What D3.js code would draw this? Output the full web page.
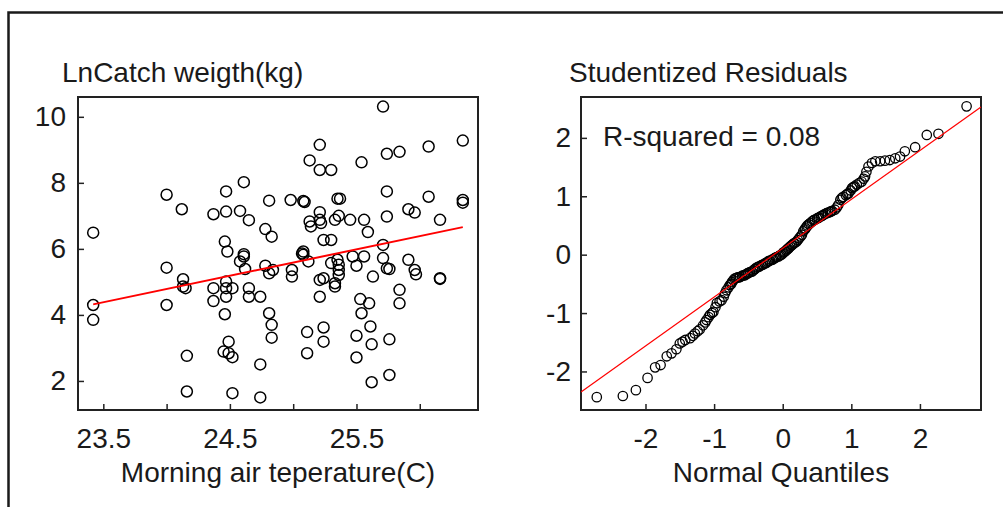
<!DOCTYPE html>
<html>
<head>
<meta charset="utf-8">
<script src="https://cdn.jsdelivr.net/npm/d3@7/dist/d3.min.js"></script>
<style>
  body { margin: 0; background: #fff; }
  svg text { font-family: "Liberation Sans", Arial, sans-serif; fill: #1a1a1a; }
</style>
</head>
<body>
<div id="chart"></div>
<script>
// Left panel: morning air temperature vs ln catch weight
const tempC = [
  23.42, 23.42, 23.42, 24.00, 24.00, 24.00, 24.12, 24.13, 24.13, 24.15,
  24.16, 24.16, 24.37, 24.37, 24.37, 24.46, 24.46, 24.47, 24.47, 24.47,
  24.47, 24.47, 24.48, 24.49, 24.45, 24.49, 24.52, 24.52, 24.52, 24.58,
  24.58, 24.61, 24.61, 24.61, 24.62, 24.65, 24.65, 24.65, 24.74, 24.74,
  24.74, 24.78, 24.78, 24.81, 24.81, 24.81, 24.83, 24.83, 24.83, 24.84,
  24.98, 24.99, 24.99, 25.08, 25.09, 25.08, 25.08, 25.07, 25.12, 25.11,
  25.11, 25.13, 25.13, 25.14, 25.21, 25.21, 25.21, 25.21, 25.22, 25.21,
  25.21, 25.24, 25.24, 25.24, 25.24, 25.30, 25.30, 25.30, 25.33, 25.33,
  25.33, 25.35, 25.37, 25.35, 25.36, 25.36, 25.36, 25.36, 25.45, 25.47,
  25.50, 25.50, 25.50, 25.53, 25.54, 25.54, 25.56, 25.56, 25.59, 25.60,
  25.61, 25.62, 25.62, 25.63, 25.71, 25.71, 25.71, 25.74, 25.74, 25.74,
  25.74, 25.76, 25.76, 25.76, 25.84, 25.84, 25.84, 25.91, 25.91, 25.96,
  25.96, 25.97, 26.07, 26.07, 26.16, 26.16, 26.16, 26.34, 26.34, 26.34
];
const lnCatch = [
  6.49, 4.30, 3.85, 7.64, 5.43, 4.30, 7.20, 5.08, 4.86, 4.81,
  2.76, 1.68, 7.05, 4.81, 4.42, 4.02, 6.22, 7.74, 7.13, 5.01,
  4.81, 4.55, 5.92, 3.19, 2.89, 2.84, 2.72, 4.81, 1.63, 7.15,
  5.62, 8.02, 5.84, 5.77, 5.39, 6.87, 4.81, 4.55, 4.55, 2.50,
  1.50, 6.60, 5.49, 7.46, 5.26, 4.05, 6.37, 3.70, 3.31, 5.36,
  7.48, 5.36, 5.16, 7.45, 7.42, 5.92, 5.82, 5.86, 5.62, 3.48,
  2.84, 8.68, 6.83, 6.68, 9.15, 8.39, 7.11, 6.88, 6.78, 5.06,
  4.55, 6.27, 5.11, 3.62, 3.19, 8.39, 6.27, 5.57, 6.88, 4.96,
  4.86, 7.52, 7.52, 5.67, 7.00, 5.52, 5.36, 5.21, 6.88, 5.77,
  5.49, 3.37, 2.71, 4.48, 8.62, 4.05, 6.88, 5.77, 6.51, 4.35,
  3.65, 3.11, 1.96, 5.16, 10.31, 6.12, 5.72, 8.88, 7.74, 6.98,
  5.41, 5.39, 3.26, 2.18, 8.94, 4.76, 4.35, 7.20, 5.67, 7.10,
  5.36, 5.23, 9.10, 7.58, 6.88, 5.11, 5.09, 9.28, 7.48, 7.40
];
const fitIntercept = -14.44;
const fitSlope = 0.801;

// Right panel: normal quantile plot of studentized residuals
const normalQuantiles = [
  -2.71, -2.33, -2.14, -1.97, -1.86, -1.78, -1.69, -1.62, -1.55, -1.50,
  -1.46, -1.42, -1.35, -1.31, -1.28, -1.24, -1.21, -1.16, -1.13, -1.11,
  -1.08, -1.06, -1.03, -1.01, -0.98, -0.96, -0.92, -0.89, -0.86, -0.84,
  -0.82, -0.79, -0.77, -0.75, -0.74, -0.72, -0.70, -0.68, -0.66, -0.64,
  -0.62, -0.59, -0.57, -0.55, -0.53, -0.51, -0.50, -0.48, -0.45, -0.43,
  -0.41, -0.40, -0.38, -0.36, -0.34, -0.31, -0.29, -0.26, -0.24, -0.22,
  -0.20, -0.19, -0.16, -0.14, -0.12, -0.10, -0.09, -0.06, -0.04, -0.02,
  0.00, 0.01, 0.03, 0.05, 0.06, 0.08, 0.09, 0.11, 0.13, 0.14,
  0.16, 0.17, 0.20, 0.22, 0.24, 0.26, 0.28, 0.30, 0.32, 0.33,
  0.35, 0.36, 0.38, 0.40, 0.43, 0.45, 0.47, 0.50, 0.52, 0.53,
  0.56, 0.58, 0.59, 0.62, 0.64, 0.66, 0.69, 0.70, 0.72, 0.76,
  0.79, 0.81, 0.84, 0.86, 0.88, 0.92, 0.94, 0.96, 0.99, 1.01,
  1.03, 1.05, 1.08, 1.12, 1.15, 1.18, 1.20, 1.22, 1.25, 1.30,
  1.35, 1.42, 1.49, 1.56, 1.64, 1.71, 1.78, 1.93, 2.10, 2.27,
  2.68
];
const studResiduals = [
  -2.44, -2.42, -2.32, -2.11, -1.93, -1.89, -1.74, -1.69, -1.62, -1.52,
  -1.49, -1.46, -1.43, -1.39, -1.35, -1.31, -1.28, -1.21, -1.16, -1.12,
  -1.07, -1.03, -1.00, -0.98, -0.90, -0.83, -0.80, -0.78, -0.72, -0.66,
  -0.61, -0.56, -0.52, -0.50, -0.47, -0.44, -0.41, -0.40, -0.39, -0.39,
  -0.38, -0.36, -0.355, -0.35, -0.33, -0.32, -0.31, -0.30, -0.29, -0.27,
  -0.25, -0.24, -0.22, -0.21, -0.20, -0.18, -0.17, -0.15, -0.14, -0.12,
  -0.11, -0.10, -0.09, -0.08, -0.06, -0.05, -0.04, -0.03, -0.01, 0.00,
  0.02, 0.04, 0.05, 0.07, 0.09, 0.10, 0.12, 0.14, 0.16, 0.17,
  0.19, 0.20, 0.22, 0.25, 0.28, 0.31, 0.34, 0.40, 0.43, 0.45,
  0.48, 0.50, 0.52, 0.54, 0.57, 0.59, 0.60, 0.62, 0.63, 0.64,
  0.66, 0.67, 0.68, 0.70, 0.71, 0.72, 0.73, 0.74, 0.75, 0.77,
  0.81, 0.85, 0.94, 0.97, 0.99, 1.02, 1.04, 1.05, 1.10, 1.14,
  1.16, 1.17, 1.20, 1.23, 1.25, 1.30, 1.34, 1.42, 1.51, 1.57,
  1.60, 1.60, 1.61, 1.62, 1.65, 1.68, 1.77, 1.84, 2.05, 2.07,
  2.54
];
const qqIntercept = 0.11;
const qqSlope = 0.837;
const rSquaredLabel = "R-squared = 0.08";

// Axis limits and ticks
const leftXLim = [23.3, 26.46];
const leftYLim = [1.12, 10.6];
const leftXTicks = [23.5, 24.0, 24.5, 25.0, 25.5, 26.0];
const leftXLabels = ["23.5", "", "24.5", "", "25.5", ""];
const leftYTicks = [2, 4, 6, 8, 10];
const rightXLim = [-2.94, 2.89];
const rightYLim = [-2.66, 2.70];
const rightXTicks = [-2, -1, 0, 1, 2];
const rightYTicks = [-2, -1, 0, 1, 2];

const titles = {
  leftY: "LnCatch weigth(kg)",
  leftX: "Morning air teperature(C)",
  rightY: "Studentized Residuals",
  rightX: "Normal Quantiles"
};

const W = 1003, H = 507;
const FONT = 28;

const svg = d3.select('#chart').append('svg')
  .attr('width', W)
  .attr('height', H);

svg.append('rect').attr('width', W).attr('height', H).attr('fill', '#fff');

// outer frame (only top and left edges visible)
svg.append('path')
  .attr('d', `M8.5,${H} L8.5,12.5 L${W},12.5`)
  .attr('fill', 'none')
  .attr('stroke', '#1a1a1a')
  .attr('stroke-width', 2.5);

function drawPanel(opt) {
  const x = d3.scaleLinear().domain(opt.xLim).range([opt.left, opt.right]);
  const y = d3.scaleLinear().domain(opt.yLim).range([opt.bottom, opt.top]);

  const g = svg.append('g');

  const clipId = 'clip-' + opt.id;
  svg.append('clipPath').attr('id', clipId)
    .append('rect')
    .attr('x', opt.left).attr('y', opt.top)
    .attr('width', opt.right - opt.left).attr('height', opt.bottom - opt.top);

  // axes with inward ticks, plain hyphen for negatives
  const xAxis = d3.axisBottom(x)
    .tickValues(opt.xTicks)
    .tickSize(-6)
    .tickPadding(18)
    .tickFormat((d, i) => opt.xLabels ? opt.xLabels[i] : String(d));
  const gx = g.append('g')
    .attr('transform', `translate(0,${opt.bottom})`)
    .call(xAxis);

  const yAxis = d3.axisLeft(y)
    .tickValues(opt.yTicks)
    .tickSize(-6)
    .tickPadding(opt.yPad)
    .tickFormat(d => String(d));
  const gy = g.append('g')
    .attr('transform', `translate(${opt.left},0)`)
    .call(yAxis);

  [gx, gy].forEach(a => {
    a.select('.domain').remove();
    a.selectAll('line').attr('stroke', '#222').attr('stroke-width', 1.5);
    a.selectAll('text').style('font-size', FONT + 'px').attr('fill', '#1a1a1a');
  });

  // plot box
  g.append('rect')
    .attr('x', opt.left).attr('y', opt.top)
    .attr('width', opt.right - opt.left)
    .attr('height', opt.bottom - opt.top)
    .attr('fill', 'none')
    .attr('stroke', '#222')
    .attr('stroke-width', 2);

  // titles
  g.append('text')
    .attr('x', opt.titleX).attr('y', 82)
    .style('font-size', FONT + 'px')
    .text(opt.yTitle);

  g.append('text')
    .attr('x', (opt.left + opt.right) / 2).attr('y', 482)
    .attr('text-anchor', 'middle')
    .style('font-size', FONT + 'px')
    .text(opt.xTitle);

  // points
  const pts = opt.xs.map((v, i) => [v, opt.ys[i]]);
  g.append('g')
    .selectAll('circle')
    .data(pts)
    .join('circle')
    .attr('cx', d => x(d[0]))
    .attr('cy', d => y(d[1]))
    .attr('r', opt.r)
    .attr('fill', 'none')
    .attr('stroke', '#000')
    .attr('stroke-width', opt.sw);

  // red fit line
  const lx = opt.lineX;
  g.append('line')
    .attr('clip-path', `url(#${clipId})`)
    .attr('x1', x(lx[0])).attr('y1', y(opt.a + opt.b * lx[0]))
    .attr('x2', x(lx[1])).attr('y2', y(opt.a + opt.b * lx[1]))
    .attr('stroke', '#ff0000')
    .attr('stroke-width', opt.lw);

  return { g, x, y };
}

drawPanel({
  id: 'left',
  left: 78, right: 478, top: 97, bottom: 410,
  xLim: leftXLim, yLim: leftYLim,
  xTicks: leftXTicks, xLabels: leftXLabels, yTicks: leftYTicks,
  yPad: 12, titleX: 62,
  yTitle: titles.leftY, xTitle: titles.leftX,
  xs: tempC, ys: lnCatch, r: 5.5, sw: 1.5,
  a: fitIntercept, b: fitSlope,
  lineX: d3.extent(tempC), lw: 2
});

const right = drawPanel({
  id: 'right',
  left: 581, right: 981, top: 97, bottom: 410,
  xLim: rightXLim, yLim: rightYLim,
  xTicks: rightXTicks, xLabels: null, yTicks: rightYTicks,
  yPad: 10, titleX: 569,
  yTitle: titles.rightY, xTitle: titles.rightX,
  xs: normalQuantiles, ys: studResiduals, r: 4.7, sw: 1.3,
  a: qqIntercept, b: qqSlope,
  lineX: rightXLim, lw: 1.2
});

right.g.append('text')
  .attr('x', 603).attr('y', 146)
  .style('font-size', FONT + 'px')
  .text(rSquaredLabel);
</script>
</body>
</html>
